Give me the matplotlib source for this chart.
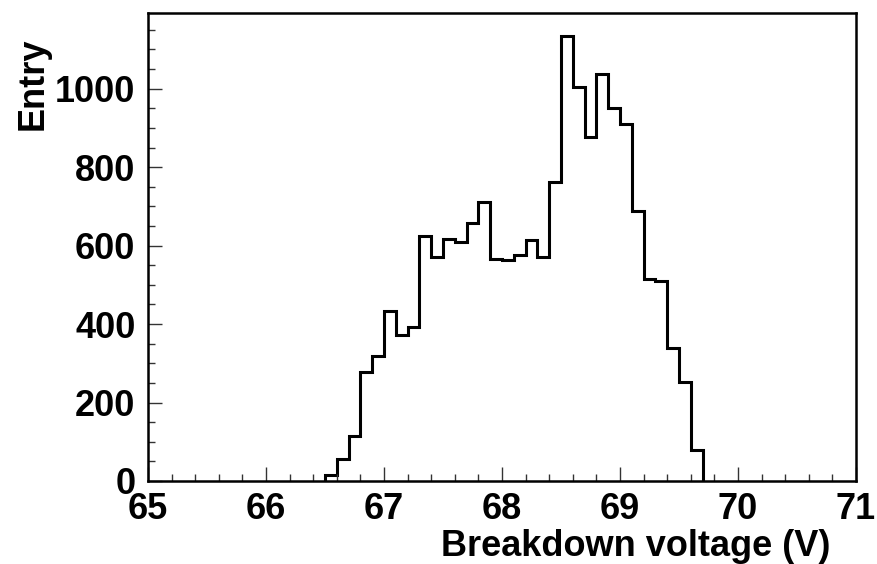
import numpy as np
import matplotlib
matplotlib.use("Agg")
import matplotlib.pyplot as plt
from matplotlib.ticker import MultipleLocator

# Histogram data: bins of width 0.1 V starting at 66.5 V
bin_start = 66.5
bin_width = 0.1
counts = [15, 56, 115, 278, 318, 433, 373, 393, 624, 571,
          617, 609, 657, 710, 567, 564, 577, 615, 571, 763,
          1135, 1005, 876, 1037, 951, 910, 688, 516, 509, 338,
          253, 79]
x_ticks = [65, 66, 67, 68, 69, 70, 71]
y_ticks = [0, 200, 400, 600, 800, 1000]
x_label = "Breakdown voltage (V)"
y_label = "Entry"

edges = bin_start + bin_width * np.arange(len(counts) + 1)

plt.rcParams['font.family'] = ['Liberation Sans', 'DejaVu Sans']
plt.rcParams['font.weight'] = 'bold'

fig = plt.figure(figsize=(8.77, 5.64), dpi=100)
ax = fig.add_axes([148/877, 1 - 481/564, (856 - 148)/877, (481 - 13)/564])

ax.stairs(counts, edges, baseline=0, color='black', linewidth=2.2)

ax.set_xlim(65, 71)
ax.set_ylim(0, 1193)
ax.set_xticks(x_ticks)
ax.set_yticks(y_ticks)
ax.xaxis.set_minor_locator(MultipleLocator(0.2))
ax.yaxis.set_minor_locator(MultipleLocator(50))

ax.tick_params(axis='both', which='both', direction='in', top=False, right=False,
               width=1.0, color='#333333')
ax.tick_params(axis='both', which='major', length=10, labelsize=26)
ax.tick_params(axis='both', which='minor', length=5)
ax.tick_params(axis='x', which='major', pad=8)
ax.tick_params(axis='y', which='major', pad=9)
for lab in ax.get_xticklabels() + ax.get_yticklabels():
    lab.set_fontweight('bold')

for s in ax.spines.values():
    s.set_linewidth(1.8)
    s.set_color('black')

fig.text(830/877, 1 - 547/564, x_label, ha='right', va='center',
         fontsize=26, fontweight='bold')
fig.text(33/877, 1 - 37/564, y_label, ha='center', va='top', rotation=90,
         fontsize=26, fontweight='bold')

fig.savefig("out.png", dpi=100)
